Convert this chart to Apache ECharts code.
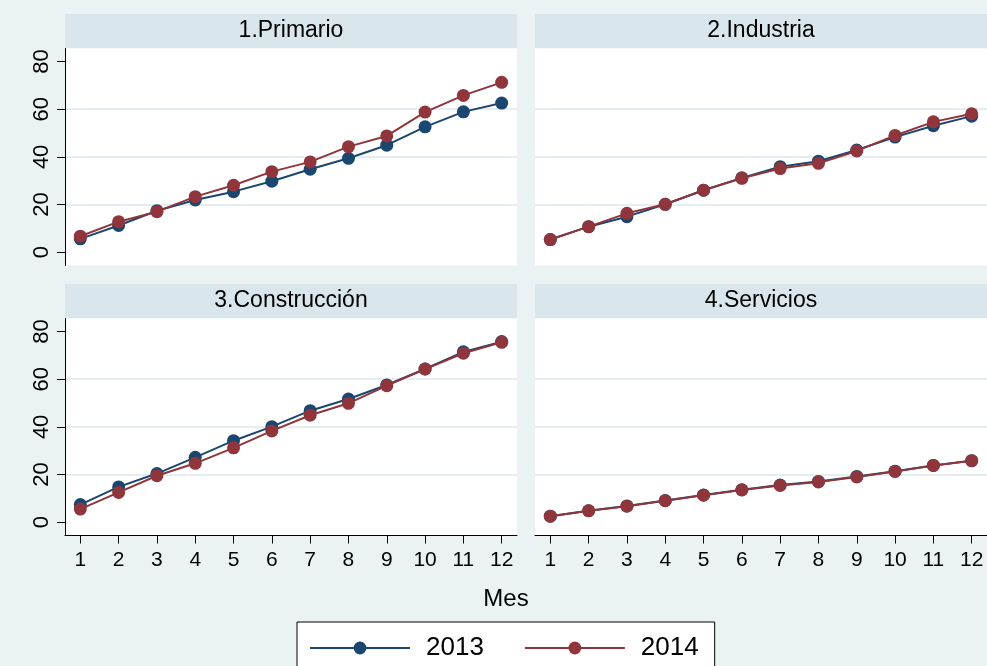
<!DOCTYPE html>
<html>
<head>
    <meta charset="UTF-8">
    <title>Avance acumulado por sector</title>
    <script src="https://cdn.jsdelivr.net/npm/echarts@6/dist/echarts.min.js"></script>
</head>
<body style="margin:0;background:#eaf2f3;">
<div id="chart" style="width:987px;height:666px;"></div>
<script type="text/javascript">

    // meses y marcas del eje
    var meses = [1, 2, 3, 4, 5, 6, 7, 8, 9, 10, 11, 12];
    var yTicks = [0, 20, 40, 60, 80];
    var anios = ['2013', '2014'];
    var paneles = ['1.Primario', '2.Industria', '3.Construcción', '4.Servicios'];

    // valores
    var primario2013 = [5.6, 11.2, 17.4, 21.9, 25.4, 29.8, 34.8, 39.4, 44.9, 52.6, 58.9, 62.6];
    var primario2014 = [6.7, 12.8, 17.0, 23.3, 28.1, 33.8, 37.9, 44.3, 48.8, 58.8, 65.8, 71.3];
    var industria2013 = [5.3, 10.7, 14.9, 20.1, 26.0, 31.2, 35.9, 38.2, 42.9, 48.3, 53.1, 57.1];
    var industria2014 = [5.3, 10.7, 16.3, 20.1, 26.0, 31.0, 35.1, 37.3, 42.5, 49.0, 54.7, 58.1];
    var construccion2013 = [7.4, 14.8, 20.4, 27.2, 34.2, 40.1, 46.8, 51.7, 57.6, 64.3, 71.5, 75.8];
    var construccion2014 = [5.5, 12.5, 19.5, 24.7, 31.2, 38.3, 44.9, 49.9, 57.3, 64.3, 70.9, 75.5];
    var servicios2013 = [2.5, 4.8, 6.8, 9.1, 11.4, 13.6, 15.6, 17.1, 19.2, 21.4, 23.8, 25.8];
    var servicios2014 = [2.5, 4.8, 6.7, 9.0, 11.3, 13.5, 15.4, 16.9, 19.0, 21.3, 23.8, 25.8];

    var datos = [
        [primario2013, primario2014],
        [industria2013, industria2014],
        [construccion2013, construccion2014],
        [servicios2013, servicios2014]
    ];

    var colores = ['#1a476f', '#90353b'];
    var fuente = '"Liberation Sans", Arial, sans-serif';

    // posicion de cada panel
    var cajas = [
        {left: 65, top: 48.5},
        {left: 535, top: 48.5},
        {left: 65, top: 318.5},
        {left: 535, top: 318.5}
    ];
    var ancho = 452, alto = 217;

    var grids = [], xAxes = [], yAxes = [], series = [], graficos = [];

    cajas.forEach(function (c, i) {
        var izquierda = (i % 2 === 0);
        var abajo = (i >= 2);

        grids.push({
            left: c.left, top: c.top, width: ancho, height: alto,
            show: true, backgroundColor: '#ffffff', borderWidth: 0
        });

        xAxes.push({
            gridIndex: i, type: 'value', min: 0.6, max: 12.4,
            axisLine: {show: abajo, onZero: false, lineStyle: {color: '#000', width: 1}},
            axisTick: {show: abajo, length: 8, customValues: meses, lineStyle: {color: '#000'}},
            axisLabel: {
                show: abajo, customValues: meses, margin: 14,
                fontSize: 21, color: '#000', fontFamily: fuente
            },
            splitLine: {show: false}
        });

        yAxes.push({
            gridIndex: i, type: 'value', min: -5.6, max: 85.5, splitNumber: 5,
            axisLine: {show: izquierda, onZero: false, lineStyle: {color: '#000', width: 1}},
            axisTick: {show: izquierda, length: 8, customValues: yTicks, lineStyle: {color: '#000'}},
            axisLabel: {
                show: izquierda, customValues: yTicks, rotate: 90, margin: 12,
                fontSize: 22, color: '#000', fontFamily: fuente
            },
            splitLine: {
                show: true, showMinLine: false, showMaxLine: false,
                lineStyle: {color: '#e6eef1', width: 2}
            }
        });

        datos[i].forEach(function (valores, k) {
            series.push({
                name: anios[k],
                type: 'line',
                xAxisIndex: i,
                yAxisIndex: i,
                z: 2 + k,
                symbol: 'circle',
                symbolSize: 13,
                color: colores[k],
                lineStyle: {width: 2, color: colores[k]},
                itemStyle: {color: colores[k]},
                data: meses.map(function (m, j) {
                    return [m, valores[j]];
                })
            });
        });

        // franja del titulo del panel
        graficos.push({
            type: 'rect',
            shape: {x: c.left, y: c.top - 34.5, width: ancho, height: 34},
            style: {fill: '#d9e6eb'},
            silent: true
        });
        graficos.push({
            type: 'text',
            x: c.left + ancho / 2,
            y: c.top - 17.5,
            style: {
                text: paneles[i], fill: '#000', font: '23px ' + fuente,
                align: 'center', verticalAlign: 'middle'
            },
            silent: true
        });
    });

    graficos.push({
        type: 'text',
        x: 506,
        y: 599,
        style: {
            text: 'Mes', fill: '#000', font: '24px ' + fuente,
            align: 'center', verticalAlign: 'middle'
        },
        silent: true
    });

    var myChart = echarts.init(document.getElementById('chart'));

    myChart.setOption({
        backgroundColor: '#eaf2f3',
        animation: false,
        grid: grids,
        xAxis: xAxes,
        yAxis: yAxes,
        legend: {
            data: anios,
            left: 297,
            top: 622,
            padding: [13, 16, 13, 12],
            itemWidth: 100,
            itemHeight: 16,
            itemGap: 40,
            borderColor: '#000',
            borderWidth: 1,
            borderRadius: 0,
            backgroundColor: '#ffffff',
            textStyle: {fontSize: 26, color: '#000', fontFamily: fuente, padding: [0, 0, 0, 11]}
        },
        graphic: graficos,
        series: series
    });
</script>
</body>
</html>
